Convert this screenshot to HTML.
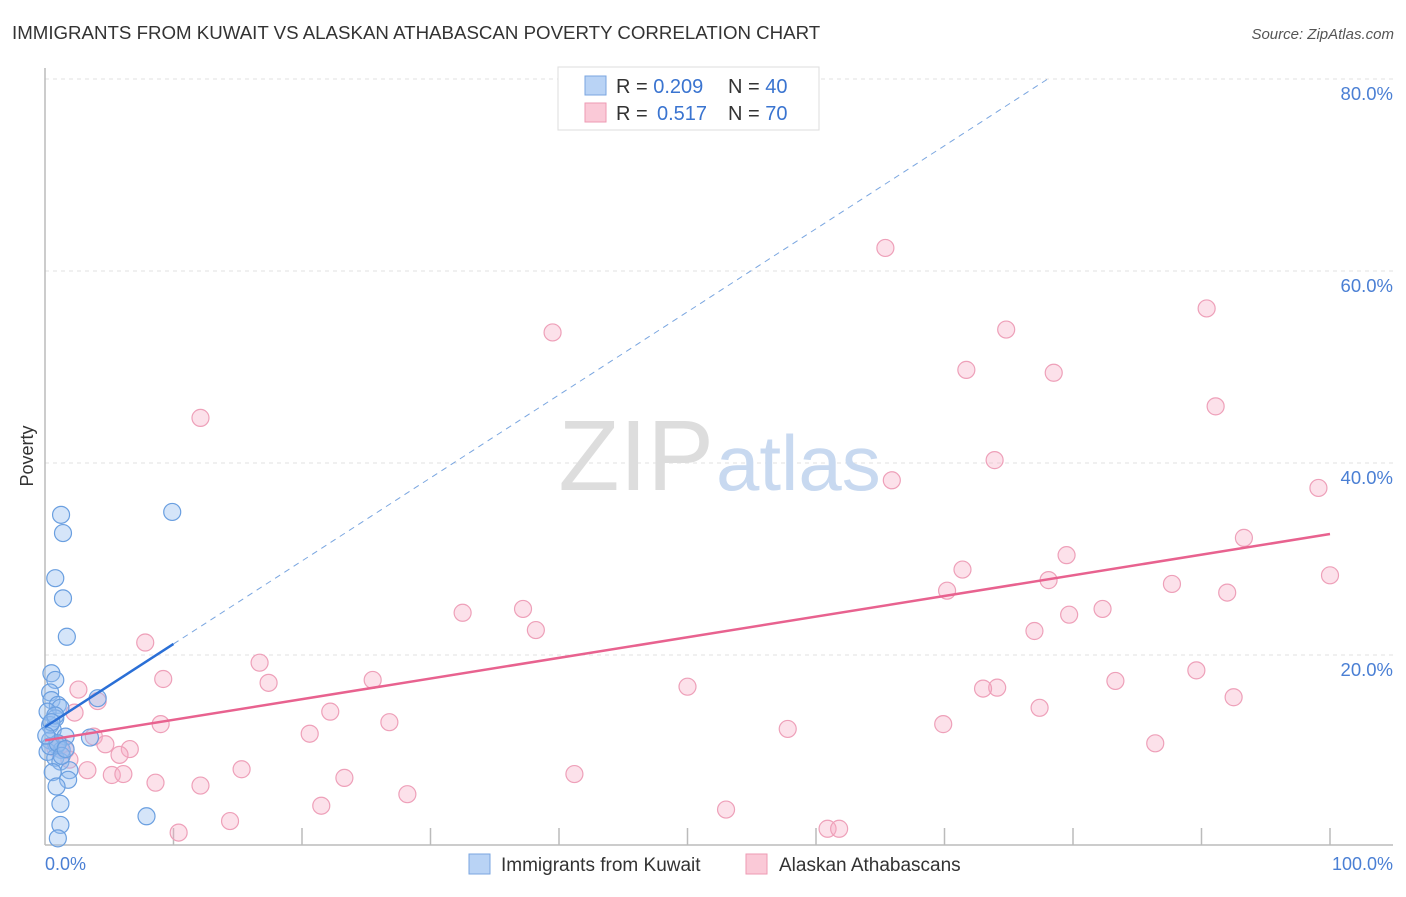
<!DOCTYPE html>
<html><head><meta charset="utf-8"><style>
body{margin:0;background:#fff;font-family:"Liberation Sans",sans-serif;}
svg text{font-family:"Liberation Sans",sans-serif;}
</style></head><body>
<svg id="chart" width="1406" height="892" viewBox="0 0 1406 892" xmlns="http://www.w3.org/2000/svg">
<text x="12" y="39" font-size="18.7" fill="#333">IMMIGRANTS FROM KUWAIT VS ALASKAN ATHABASCAN POVERTY CORRELATION CHART</text>
<text x="1394" y="39" font-size="15" fill="#555" text-anchor="end" font-style="italic">Source: ZipAtlas.com</text>
<g id="grid"></g>
<text x="714" y="490" font-size="100" fill="#ddd" text-anchor="end" font-family="Liberation Serif">ZIP</text>
<text x="716" y="490" font-size="78" fill="#c8d9f0">atlas</text>
<line x1="45" y1="68" x2="45" y2="845" stroke="#bbb" stroke-width="1.5"/>
<line x1="45" y1="845" x2="1393" y2="845" stroke="#bbb" stroke-width="1.5"/>
<g id="xticks"></g>
<g id="yticks"></g>
<text x="45" y="870" font-size="18" fill="#4a7fd4">0.0%</text>
<text x="1393" y="870" font-size="18" fill="#4a7fd4" text-anchor="end">100.0%</text>
<text transform="translate(33,456) rotate(-90)" font-size="18" fill="#333" text-anchor="middle">Poverty</text>
<g id="pinkpts"></g>
<g id="bluepts"></g>
<g id="lines"></g>
<g>
<rect x="558" y="67" width="261" height="63" fill="#fff" stroke="#ddd"/>
<rect x="585" y="76" width="21" height="19" fill="#b9d3f5" stroke="#7aa6e0"/>
<rect x="585" y="103" width="21" height="19" fill="#fac9d7" stroke="#ee9ab3"/>
<text x="616" y="93" font-size="20" fill="#333">R = <tspan fill="#3a74d0">0.209</tspan><tspan x="728">N = </tspan><tspan fill="#3a74d0">40</tspan></text>
<text x="616" y="120" font-size="20" fill="#333">R = <tspan x="657" fill="#3a74d0">0.517</tspan><tspan x="728">N = </tspan><tspan fill="#3a74d0">70</tspan></text>
</g>
<g>
<rect x="469" y="854" width="21" height="20" fill="#b9d3f5" stroke="#7aa6e0"/>
<text x="501" y="871" font-size="19" fill="#333">Immigrants from Kuwait</text>
<rect x="746" y="854" width="21" height="20" fill="#fac9d7" stroke="#ee9ab3"/>
<text x="779" y="871" font-size="19" fill="#333">Alaskan Athabascans</text>
</g>
</svg>
<script>
const yTicks=[20,40,60,80];
const yTickLabels=["20.0%","40.0%","60.0%","80.0%"];
const xTickVals=[10,20,30,40,50,60,70,80,90,100];
const blueX=[1.25,1.4,0.8,1.4,1.7,9.9,4.1,0.5,0.8,0.4,0.5,1.0,1.2,0.2,0.8,0.4,0.6,1.6,0.4,0.9,1.3,0.2,0.8,1.2,0.6,1.9,1.8,0.9,1.2,1.2,1.0,3.5,7.9,0.4,0.8,0.5,1.0,0.1,1.3,1.6];
const blueY=[34.6,32.7,28.0,25.9,21.9,34.9,15.5,18.1,17.4,16.1,15.3,14.8,14.5,14.1,13.4,12.7,12.2,11.5,11.1,10.6,10.1,9.9,9.3,8.9,7.8,8.0,7.0,6.3,4.5,2.3,0.9,11.4,3.2,10.5,13.7,13.0,10.8,11.6,9.5,10.2];
const pinkX=[12.1,39.5,65.4,74.8,90.4,71.7,78.5,91.1,73.9,65.9,99.1,93.3,79.5,71.4,78.1,70.2,87.7,92.0,100,32.5,37.2,38.2,82.3,79.7,77.0,7.8,16.7,9.2,17.4,25.5,50.0,74.1,73.0,83.3,89.6,92.5,77.4,2.6,4.1,2.3,22.2,9.0,26.8,69.9,20.6,57.8,3.8,86.4,4.7,6.6,1.6,5.8,3.3,5.2,6.1,15.3,23.3,41.2,8.6,12.1,21.5,28.2,53.0,14.4,10.4,60.9,61.8,1.2,1.9,0.8];
const pinkY=[44.7,53.6,62.4,53.9,56.1,49.7,49.4,45.9,40.3,38.2,37.4,32.2,30.4,28.9,27.8,26.7,27.4,26.5,28.3,24.4,24.8,22.6,24.8,24.2,22.5,21.3,19.2,17.5,17.1,17.4,16.7,16.6,16.5,17.3,18.4,15.6,14.5,16.4,15.2,14.0,14.1,12.8,13.0,12.8,11.8,12.3,11.5,10.8,10.7,10.2,10.1,9.6,8.0,7.5,7.6,8.1,7.2,7.6,6.7,6.4,4.3,5.5,3.9,2.7,1.5,1.9,1.9,10.6,9.1,10.3];
const blueTrend=[12.5,0.865];
const pinkTrend=[11.1,0.215];
const NS="http://www.w3.org/2000/svg";
const sx=v=>45+v*12.85, sy=v=>847-v*9.6;
function mk(t,a,p){const e=document.createElementNS(NS,t);for(const k in a)e.setAttribute(k,a[k]);p.appendChild(e);return e;}
const grid=document.getElementById('grid'),yt=document.getElementById('yticks'),xt=document.getElementById('xticks');
yTicks.forEach((v,i)=>{
 const l=mk('line',{x1:45,x2:1393,y1:sy(v),y2:sy(v),stroke:'#e2e2e2','stroke-dasharray':'4,4'},grid);
 
 
 const t=mk('text',{x:1393,y:sy(v)+21,'font-size':18.5,fill:'#4a7fd4','text-anchor':'end'},yt);
 t.textContent=yTickLabels[i];
 
 
});
xTickVals.forEach(v=>{
 const l=mk('line',{x1:sx(v),x2:sx(v),y1:828,y2:845,stroke:'#bbb','stroke-width':1.5},xt);
 
 
});
const pg=document.getElementById('pinkpts');
pinkX.forEach((x,i)=>{
 const c=mk('circle',{cx:sx(x),cy:sy(pinkY[i]),r:8.5,fill:'rgba(246,170,195,0.35)',stroke:'#eea0b9','stroke-width':1.2},pg);
 
 
});
const bg=document.getElementById('bluepts');
blueX.forEach((x,i)=>{
 const c=mk('circle',{cx:sx(x),cy:sy(blueY[i]),r:8.5,fill:'rgba(150,190,240,0.4)',stroke:'#6a9fe0','stroke-width':1.2},bg);
 
 
});
const lg=document.getElementById('lines');
const pl=mk('line',{x1:sx(0),y1:sy(pinkTrend[0]),x2:sx(100),y2:sy(pinkTrend[0]+pinkTrend[1]*100),stroke:'#e8628f','stroke-width':2.5},lg);


const bl=mk('line',{x1:sx(0),y1:sy(blueTrend[0]),x2:sx(10),y2:sy(blueTrend[0]+blueTrend[1]*10),stroke:'#2a6fd6','stroke-width':2.5},lg);


const xEnd=(80-blueTrend[0])/blueTrend[1];
const bd=mk('line',{x1:sx(10),y1:sy(blueTrend[0]+blueTrend[1]*10),x2:sx(xEnd),y2:sy(80),stroke:'#7aa6e0','stroke-width':1,'stroke-dasharray':'6,5'},lg);


</script>
</body></html>
